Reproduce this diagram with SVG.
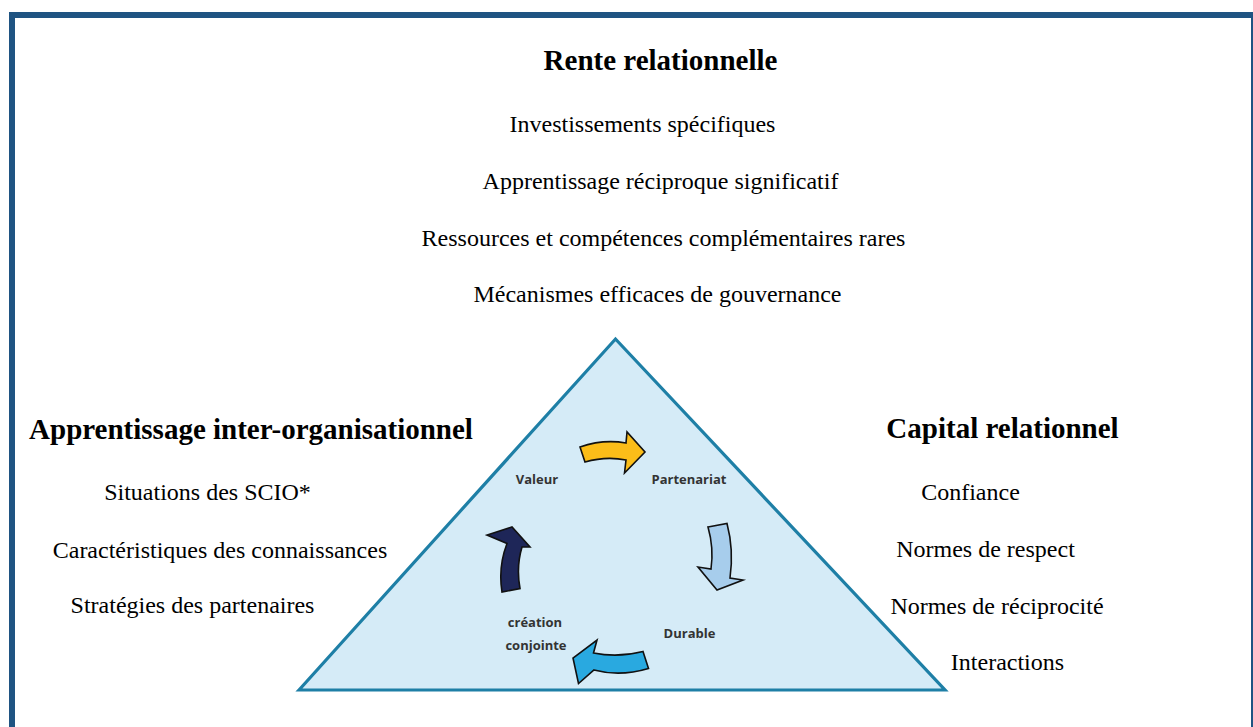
<svg xmlns="http://www.w3.org/2000/svg" width="1253" height="727" viewBox="0 0 1253 727">
<style>
.h{font-family:"Liberation Serif","Times New Roman",serif;font-weight:bold;font-size:29px;fill:#000;text-anchor:middle}
.b{font-family:"Liberation Serif","Times New Roman",serif;font-size:24px;fill:#000;text-anchor:middle}
.l{font-family:"Open Sans","Liberation Sans",sans-serif;font-weight:bold;font-size:13px;fill:#333;text-anchor:middle}
.arr{stroke:#111;stroke-width:1.6;stroke-linejoin:miter}
</style>
<rect x="0" y="0" width="1253" height="727" fill="#fff"/>
<rect id="frame" x="12" y="15" width="1242" height="730" fill="none" stroke="#1f5482" stroke-width="6"/>

<g id="rente">
<text class="h" x="660.5" y="70">Rente relationnelle</text>
<text class="b" x="642.5" y="132">Investissements spécifiques</text>
<text class="b" x="660.5" y="189">Apprentissage réciproque significatif</text>
<text class="b" x="663.5" y="245.5">Ressources et compétences complémentaires rares</text>
<text class="b" x="657.5" y="302">Mécanismes efficaces de gouvernance</text>
</g>

<g id="apprentissage">
<text class="h" x="251" y="439">Apprentissage inter-organisationnel</text>
<text class="b" x="207.5" y="500">Situations des SCIO*</text>
<text class="b" x="220" y="557.5">Caractéristiques des connaissances</text>
<text class="b" x="192.5" y="613">Stratégies des partenaires</text>
</g>

<g id="capital">
<text class="h" x="1002.5" y="438">Capital relationnel</text>
<text class="b" x="970.5" y="500">Confiance</text>
<text class="b" x="985.5" y="557">Normes de respect</text>
<text class="b" x="997" y="613.5">Normes de réciprocité</text>
<text class="b" x="1007.5" y="670">Interactions</text>
</g>

<g id="triangle">
<polygon points="299,690 615.5,339 945,690" fill="#d5ebf7" stroke="#1e7fa6" stroke-width="3.2" stroke-linejoin="miter"/>
</g>

<g id="cycle-labels">
<text class="l" x="537" y="483.5">Valeur</text>
<text class="l" x="689" y="483.5">Partenariat</text>
<text class="l" x="689.5" y="638">Durable</text>
<text class="l" x="535" y="626.5">création</text>
<text class="l" x="536" y="649.5">conjointe</text>
</g>

<g id="connectors">
<path class="arr" fill="#fbbd19" d="M580,447 Q603,439 626,443 L627,432 L645,452 L624.5,473 L626,460 Q606,456 585,462 Z"/>
<path class="arr" fill="#a7cdec" d="M708,527 L727,523.5 Q734,550 730,578 L743,580 L717,590 L698,567 L711,569 Q714,548 708,527 Z"/>
<path class="arr" fill="#29a9e0" d="M643,651.5 Q618,658 593.5,653 L597,640 L573,658 L578.5,683.5 L594,670 Q620,677 648.5,668.5 Z"/>
<path class="arr" fill="#1e2658" d="M502,592 Q498,567 507,543.5 L487,535 L512,527 L530,547 L522,547 Q516,567 520,588.5 Z"/>
</g>
</svg>
